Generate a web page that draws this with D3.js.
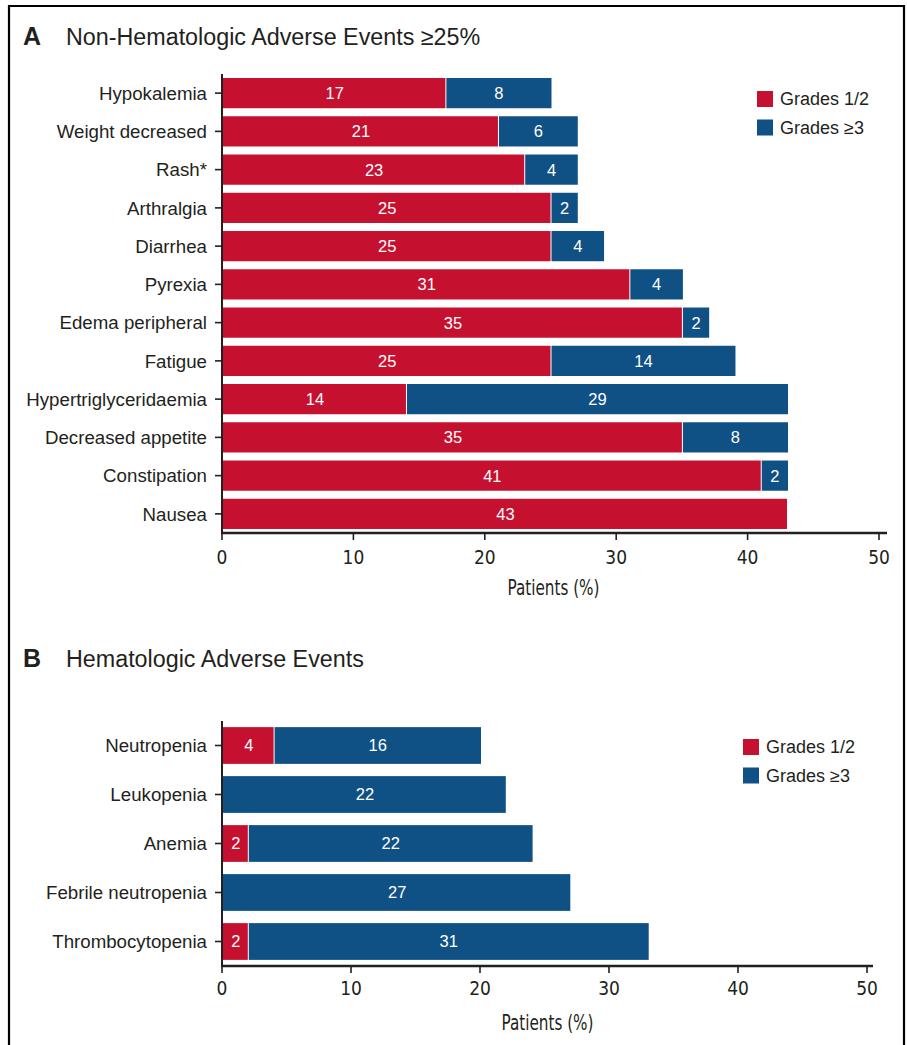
<!DOCTYPE html>
<html>
<head>
<meta charset="utf-8">
<script src="https://cdn.jsdelivr.net/npm/d3@7/dist/d3.min.js"></script>
<style>
  html, body { margin: 0; padding: 0; background: #fff; }
  svg { display: block; }
  .cat { font-family: "Liberation Sans", Arial, Helvetica, sans-serif; font-size: 18.7px; fill: #231f20; }
  .tick-label { font-family: "Liberation Sans Narrow", "DejaVu Sans Condensed", "Liberation Sans", sans-serif; font-size: 19px; fill: #231f20; }
  .axis-title { font-family: "Liberation Sans Narrow", "DejaVu Sans Condensed", "Liberation Sans", sans-serif; font-size: 22px; fill: #231f20; }
  .val { font-family: "Liberation Sans", Arial, Helvetica, sans-serif; font-size: 16.5px; fill: #fff; }
  .legend { font-family: "Liberation Sans", Arial, Helvetica, sans-serif; font-size: 18px; fill: #231f20; }
  .panel-letter { font-family: "Liberation Sans", Arial, Helvetica, sans-serif; font-size: 25px; font-weight: bold; fill: #231f20; }
  .panel-title { font-family: "Liberation Sans", Arial, Helvetica, sans-serif; font-size: 23.3px; fill: #231f20; }
</style>
</head>
<body>
<svg id="chart" width="907" height="1045"></svg>
<script>
// Non-hematologic adverse events (>=25%), top to bottom
const nonHemCategories = ["Hypokalemia", "Weight decreased", "Rash*", "Arthralgia", "Diarrhea", "Pyrexia",
  "Edema peripheral", "Fatigue", "Hypertriglyceridaemia", "Decreased appetite", "Constipation", "Nausea"];
const nonHemGrade12 = [17, 21, 23, 25, 25, 31, 35, 25, 14, 35, 41, 43];
const nonHemGrade3 = [8, 6, 4, 2, 4, 4, 2, 14, 29, 8, 2, 0];

// Hematologic adverse events, top to bottom
const hemCategories = ["Neutropenia", "Leukopenia", "Anemia", "Febrile neutropenia", "Thrombocytopenia"];
const hemGrade12 = [4, 0, 2, 0, 2];
const hemGrade3 = [16, 22, 22, 27, 31];

const xTicks = [0, 10, 20, 30, 40, 50];
const seriesNames = ["Grades 1/2", "Grades \u22653"];
const colors = ["#c5112f", "#0f5185"];

const svg = d3.select("#chart");

// outer frame (open at the bottom)
svg.append("path")
  .attr("d", "M9,1045 V6 H904 V1045")
  .attr("fill", "none")
  .attr("stroke", "#000")
  .attr("stroke-width", 2.2);

function panel(opts) {
  const { letter, title, titleY, cats, g12, g3, x0, x1, lineEnd, y0, y1, padInner,
          legendX, legendY, tickLabelY, axisTitleY } = opts;
  const g = svg.append("g");

  g.append("text").attr("class", "panel-letter").attr("x", 23).attr("y", titleY).text(letter);
  g.append("text").attr("class", "panel-title").attr("x", 66).attr("y", titleY).text(title);

  const x = d3.scaleLinear().domain([0, 50]).range([x0, x1]);
  const y = d3.scaleBand().domain(cats).range([y0, y1])
    .paddingInner(padInner).paddingOuter(padInner / 2);

  const rows = cats.map((c, i) => ({ cat: c, vals: [g12[i], g3[i]] }));
  const stacked = d3.stack().keys([0, 1]).value((d, k) => d.vals[k])(rows);

  stacked.forEach((layer, k) => {
    const segs = g.append("g").selectAll("g.seg")
      .data(layer.filter(d => d[1] - d[0] > 0))
      .join("g");
    segs.append("rect")
      .attr("x", d => x(d[0]) + 1)
      .attr("y", d => y(d.data.cat))
      .attr("width", d => x(d[1]) - x(d[0]) - (d[0] === 0 ? 1 : 0))
      .attr("height", y.bandwidth())
      .attr("fill", colors[k]);
    segs.append("text")
      .attr("class", "val")
      .attr("x", d => (x(d[0]) + x(d[1])) / 2 + 1)
      .attr("y", d => y(d.data.cat) + y.bandwidth() / 2)
      .attr("dy", "0.36em")
      .attr("text-anchor", "middle")
      .text(d => d[1] - d[0]);
  });

  // y axis: line, ticks and category labels
  const yAxis = g.append("g").attr("transform", `translate(${x0},0)`);
  yAxis.append("line").attr("x1", 0).attr("x2", 0).attr("y1", y0).attr("y2", y1 + 1)
    .attr("stroke", "#231f20").attr("stroke-width", 2);
  cats.forEach(c => {
    const cy = y(c) + y.bandwidth() / 2;
    yAxis.append("line").attr("x1", -7).attr("x2", 0).attr("y1", cy).attr("y2", cy)
      .attr("stroke", "#231f20").attr("stroke-width", 1.6);
    yAxis.append("text").attr("class", "cat").attr("x", -15).attr("y", cy)
      .attr("dy", "0.36em").attr("text-anchor", "end").text(c);
  });

  // x axis
  const xAxis = g.append("g");
  xAxis.append("line").attr("x1", x0 - 1).attr("x2", lineEnd).attr("y1", y1).attr("y2", y1)
    .attr("stroke", "#231f20").attr("stroke-width", 2.4);
  xTicks.forEach(t => {
    xAxis.append("line").attr("x1", x(t)).attr("x2", x(t)).attr("y1", y1).attr("y2", y1 + 7)
      .attr("stroke", "#231f20").attr("stroke-width", 1.6);
    xAxis.append("text").attr("class", "tick-label").attr("x", x(t)).attr("y", tickLabelY)
      .attr("text-anchor", "middle").text(t);
  });
  g.append("text").attr("class", "axis-title")
    .attr("x", (x(0) + x(50)) / 2 + 3).attr("y", axisTitleY)
    .attr("text-anchor", "middle")
    .attr("textLength", 92).attr("lengthAdjust", "spacingAndGlyphs")
    .text("Patients (%)");

  // legend
  const lg = g.append("g").attr("transform", `translate(${legendX},${legendY})`);
  seriesNames.forEach((s, i) => {
    lg.append("rect").attr("x", 0).attr("y", i * 28.5).attr("width", 16).attr("height", 16)
      .attr("fill", colors[i]);
    lg.append("text").attr("class", "legend").attr("x", 23).attr("y", i * 28.5 + 8)
      .attr("dy", "0.36em").text(s);
  });
}

panel({
  letter: "A", title: "Non-Hematologic Adverse Events \u226525%", titleY: 45,
  cats: nonHemCategories, g12: nonHemGrade12, g3: nonHemGrade3,
  x0: 222, x1: 879, lineEnd: 887, y0: 74, y1: 533, padInner: 0.21,
  legendX: 757, legendY: 91, tickLabelY: 564, axisTitleY: 595
});

panel({
  letter: "B", title: "Hematologic Adverse Events", titleY: 667,
  cats: hemCategories, g12: hemGrade12, g3: hemGrade3,
  x0: 222, x1: 867, lineEnd: 873, y0: 721, y1: 966, padInner: 0.25,
  legendX: 743, legendY: 739, tickLabelY: 995, axisTitleY: 1030
});
</script>
</body>
</html>
